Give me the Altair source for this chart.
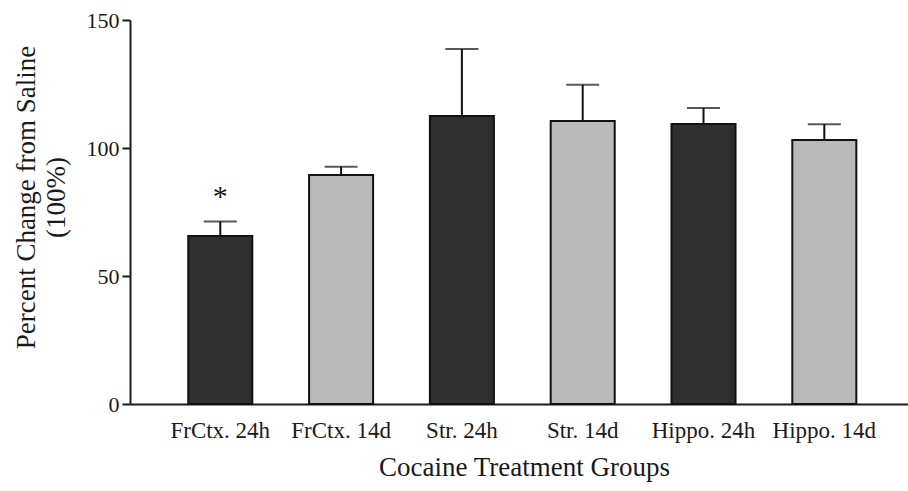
import altair as alt
import pandas as pd

# Group means (% of saline) and their SEM
groups = ["FrCtx. 24h", "FrCtx. 14d", "Str. 24h", "Str. 14d", "Hippo. 24h", "Hippo. 14d"]
means = [65.6, 89.5, 112.5, 110.5, 109.4, 103.1]
sems = [5.7, 3.2, 26.2, 14.2, 6.2, 6.2]
timepoint = ["24h", "14d", "24h", "14d", "24h", "14d"]
marks = ["*", "", "", "", "", ""]

df = pd.DataFrame({
    "group": groups,
    "mean": means,
    "sem": sems,
    "time": timepoint,
    "mark": marks,
})
df["upper"] = df["mean"] + df["sem"]

FONT = "Liberation Serif"
INK = "#1a1a1a"

x_enc = alt.X(
    "group:N",
    sort=groups,
    scale=alt.Scale(paddingInner=0.47, paddingOuter=0.455, align=0.53),
    axis=alt.Axis(
        title="Cocaine Treatment Groups",
        labelAngle=0,
        labelFontSize=23,
        labelPadding=15,
        labelColor=INK,
        ticks=False,
        tickSize=0,
        domainWidth=2,
        domainColor=INK,
        titleFontSize=27,
        titleFontWeight="normal",
        titleColor=INK,
        titleBaseline="alphabetic",
        titleY=71,
        titleX=394,
    ),
)

y_scale = alt.Scale(domain=[0, 150], nice=False)

bars = alt.Chart(df).mark_bar(stroke="#111111", strokeWidth=2).encode(
    x=x_enc,
    y=alt.Y(
        "mean:Q",
        scale=y_scale,
        axis=alt.Axis(
            values=[0, 50, 100, 150],
            grid=False,
            labelFontSize=22,
            labelPadding=3,
            labelColor=INK,
            tickSize=8,
            tickWidth=2,
            tickColor=INK,
            domainWidth=2,
            domainColor=INK,
            title=["Percent Change from Saline", "(100%)"],
            titleFontSize=27,
            titleFontWeight="normal",
            titleColor=INK,
            titleLineHeight=30,
            titleAngle=270,
            titleAlign="center",
            titleBaseline="middle",
            titleX=-104,
            titleY=177,
        ),
    ),
    color=alt.Color(
        "time:N",
        scale=alt.Scale(domain=["24h", "14d"], range=["#2f2f2f", "#b9b9b9"]),
        legend=None,
    ),
)

stems = alt.Chart(df).mark_rule(color="#111111", strokeWidth=2).encode(
    x=alt.X("group:N", sort=groups),
    y=alt.Y("mean:Q", scale=y_scale),
    y2="upper:Q",
)

caps = alt.Chart(df).mark_tick(
    color="#111111", thickness=2, size=33, orient="horizontal"
).encode(
    x=alt.X("group:N", sort=groups),
    y=alt.Y("upper:Q", scale=y_scale),
)

stars = alt.Chart(df).mark_text(
    font=FONT, fontSize=30, baseline="alphabetic", dy=-15, color=INK
).encode(
    x=alt.X("group:N", sort=groups),
    y=alt.Y("upper:Q", scale=y_scale),
    text="mark:N",
)

chart = (
    alt.layer(bars, stems, caps, stars)
    .properties(
        width=778,
        height=384,
        autosize=alt.AutoSizeParams(type="none"),
        padding={"left": 130, "top": 20, "right": 0, "bottom": 87},
        background="white",
    )
    .configure_view(stroke=None)
    .configure_axis(labelFont=FONT, titleFont=FONT)
    .configure_text(font=FONT)
)

chart.save("out.html", embed_options={"renderer": "svg", "actions": False})
